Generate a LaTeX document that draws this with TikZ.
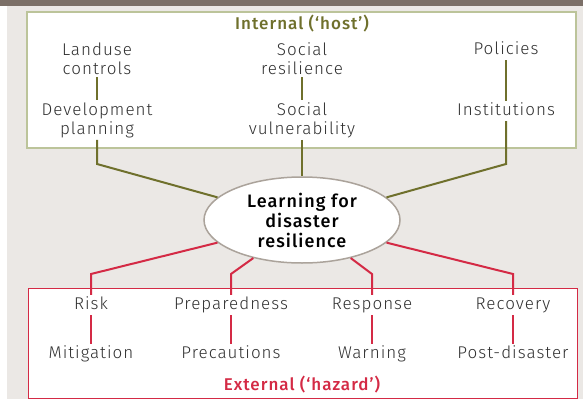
\documentclass[tikz,border=0pt]{standalone}
\usepackage{fontspec}
\setmainfont{Fira Sans}[UprightFont=* Light, BoldFont=* Medium, LetterSpace=6]
\usetikzlibrary{shapes.geometric}
\definecolor{bandgrey}{HTML}{7B6F67}
\definecolor{paper}{HTML}{EBE8E5}
\definecolor{hostframe}{HTML}{BCC49A}
\definecolor{hostolive}{HTML}{6F702C}
\definecolor{hazred}{HTML}{D42A45}
\definecolor{ellgrey}{HTML}{ABA39B}
\definecolor{textgrey}{HTML}{303030}

\tikzset{
  item/.style={align=center, text=textgrey, inner sep=2pt,
    font=\fontsize{17}{19}\selectfont},
  oneline/.style={item, text height=12pt, text depth=4pt},
  boxtitle/.style={inner sep=1pt, font=\fontsize{17}{19}\selectfont\bfseries},
  hostline/.style={draw=hostolive, line width=2pt},
  hazline/.style={draw=hazred, line width=2pt},
  hub/.style={ellipse, draw=ellgrey, line width=1.5pt, fill=white,
    minimum width=196pt, minimum height=86pt, align=center, inner sep=0pt,
    font=\fontsize{18}{20}\selectfont\bfseries},
}

\begin{document}
\begin{tikzpicture}[x=1pt,y=-1pt]
  \useasboundingbox (0,0) rectangle (583,399);
  \fill[white] (0,0) rectangle (583,399);
  \fill[paper] (7,6) rectangle (583,399);
  \fill[bandgrey] (0,0) rectangle (583,6);

  % the two frames
  \draw[hostframe, line width=1.5pt, fill=white] (27,12) rectangle (576,148);
  \draw[hazred, line width=1pt, fill=white] (28,288) rectangle (577,398);

  \coordinate (hostbend) at (0,164);
  \coordinate (hazbend) at (0,274);

  % internal side
  \node[boxtitle, text=hostolive] (host) at (302,24) {Internal (`host')};
  \node[item] (landuse) at (97,59) {Landuse\\controls};
  \node[item] (socres) at (302,59) {Social\\resilience};
  \node[oneline] (policies) at (506,50) {Policies};
  \node[item] (devplan) at (97,120) {Development\\planning};
  \node[item] (socvul) at (302,120) {Social\\vulnerability};
  \node[oneline] (instit) at (506,111) {Institutions};

  \node[hub] (learn) at (302,220) {Learning for\\disaster\\resilience};

  % external side
  \node[oneline] (risk) at (91,305) {Risk};
  \node[oneline] (prep) at (231,305) {Preparedness};
  \node[oneline] (resp) at (372,305) {Response};
  \node[oneline] (recov) at (513,305) {Recovery};
  \node[oneline] (mitig) at (91,354) {Mitigation};
  \node[oneline] (precau) at (231,354) {Precautions};
  \node[oneline] (warn) at (372,354) {Warning};
  \node[oneline] (postdis) at (513,354) {Post-disaster};
  \node[boxtitle, text=hazred] (hazard) at (302,385) {External (`hazard')};

  % connectors
  \draw[hostline] (landuse) -- (devplan);
  \draw[hostline] (socres) -- (socvul);
  \draw[hostline] (policies) -- (instit);
  \draw[hostline] (devplan) -- (devplan |- hostbend) -- (learn.165);
  \draw[hostline] (socvul) -- (learn);
  \draw[hostline] (instit) -- (instit |- hostbend) -- (learn.15);

  \draw[hazline] (learn.195) -- (risk |- hazbend) -- (risk);
  \draw[hazline] (learn.218) -- (prep |- hazbend) -- (prep);
  \draw[hazline] (learn.322) -- (resp |- hazbend) -- (resp);
  \draw[hazline] (learn.345) -- (recov |- hazbend) -- (recov);
  \draw[hazline] (risk) -- (mitig);
  \draw[hazline] (prep) -- (precau);
  \draw[hazline] (resp) -- (warn);
  \draw[hazline] (recov) -- (postdis);
\end{tikzpicture}
\end{document}
